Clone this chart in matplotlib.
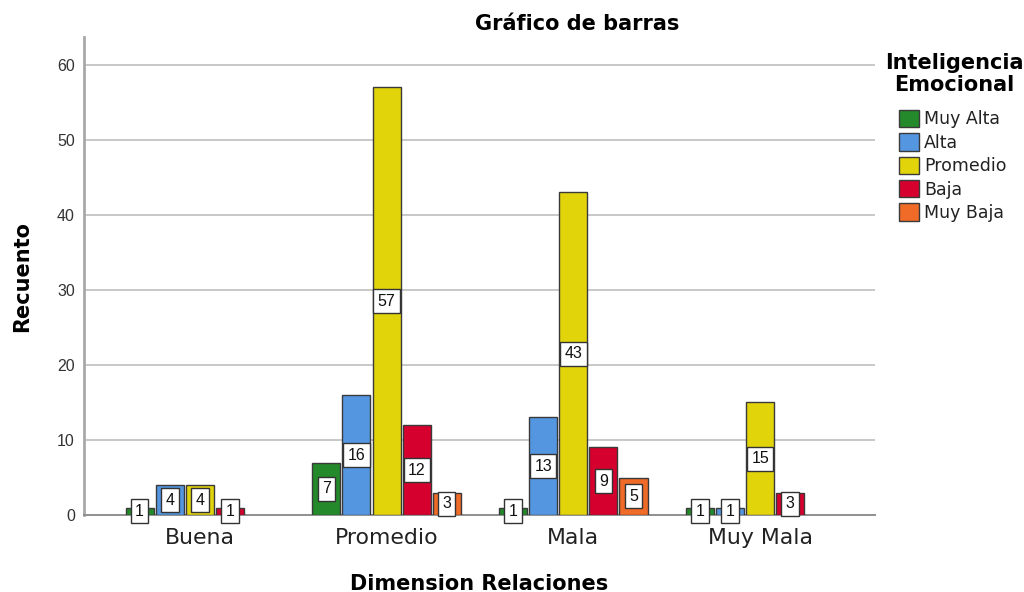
import matplotlib
matplotlib.use("Agg")
import matplotlib.pyplot as plt
import numpy as np
from matplotlib.patches import Patch

categories = ["Buena", "Promedio", "Mala", "Muy Mala"]
series_names = ["Muy Alta", "Alta", "Promedio", "Baja", "Muy Baja"]
muy_alta = [1, 7, 1, 1]
alta = [4, 16, 13, 1]
promedio = [4, 57, 43, 15]
baja = [1, 12, 9, 3]
muy_baja = [0, 3, 5, 0]
series_values = [muy_alta, alta, promedio, baja, muy_baja]
colors = ["#23892a", "#5497e0", "#e2d40a", "#d6002e", "#f06a28"]

plt.rcParams['font.family'] = ['DejaVu Sans']
ARIAL = ['Liberation Sans', 'DejaVu Sans']

fig = plt.figure(figsize=(10.24, 5.92), dpi=100)
ax = fig.add_axes([0.082, 0.13, 0.7725, 0.8075])

x = np.arange(len(categories))
step = 0.161
width = 0.15
nser = len(series_names)
for i, (name, vals, col) in enumerate(zip(series_names, series_values, colors)):
    offs = (i - (nser - 1) / 2) * step
    xs = x + offs
    for xi, v in zip(xs, vals):
        if v <= 0:
            continue
        ax.bar(xi, v, width=width, color=col, edgecolor="#3a3a3a", linewidth=1.0, zorder=3)
        ax.text(xi, v / 2, str(v), ha="center", va="center", fontsize=11.5, color="#111111",
                family=ARIAL, zorder=5,
                bbox=dict(boxstyle="square,pad=0.27", facecolor="white", edgecolor="#333333", linewidth=1.0))

# legend
handles = [Patch(facecolor=c, edgecolor="#3a3a3a", linewidth=1.0, label=n) for n, c in zip(series_names, colors)]
leg = fig.legend(handles=handles, loc="upper center",
                 bbox_to_anchor=(953 / 1024, 1 - 110 / 592), frameon=False, fontsize=12.5,
                 handlelength=1.15, handleheight=1.15, handletextpad=0.3, labelspacing=0.28,
                 borderaxespad=0, borderpad=0)
for t in leg.get_texts():
    t.set_color("#222222")
fig.text(954 / 1024, 1 - 53 / 592, "Inteligencia\nEmocional", ha="center", va="top",
         fontsize=15, fontweight="bold", linespacing=1.1, multialignment="center")

ax.set_xlim(-0.62, 3.615)
ax.set_ylim(0, 63.7)
ax.set_yticks([0, 10, 20, 30, 40, 50, 60])
ax.set_xticks(x)
ax.set_xticklabels(categories, fontsize=15.8, color="#222222")
for lab in ax.get_yticklabels():
    lab.set_family(ARIAL)
ax.tick_params(axis="y", labelsize=11.5, colors="#333333", length=0, pad=6.5)
ax.tick_params(axis="x", length=0, pad=9)
ax.yaxis.grid(True, color="#c8c8c8", linewidth=1.4, zorder=0)
ax.set_axisbelow(True)
for s in ["top", "right"]:
    ax.spines[s].set_visible(False)
ax.spines["left"].set_color("#a8a8a8")
ax.spines["left"].set_linewidth(2.0)
ax.spines["bottom"].set_color("#909090")
ax.spines["bottom"].set_linewidth(1.4)

ax.set_ylabel("Recuento", fontsize=15, fontweight="bold", labelpad=18)
ax.set_xlabel("Dimension Relaciones", fontsize=15, fontweight="bold", labelpad=19)
fig.text(577 / 1024, 1 - 24 / 592, "Gráfico de barras", ha="center", va="center", fontsize=15, fontweight="bold")

fig.savefig("out.png", dpi=100, facecolor="white")
